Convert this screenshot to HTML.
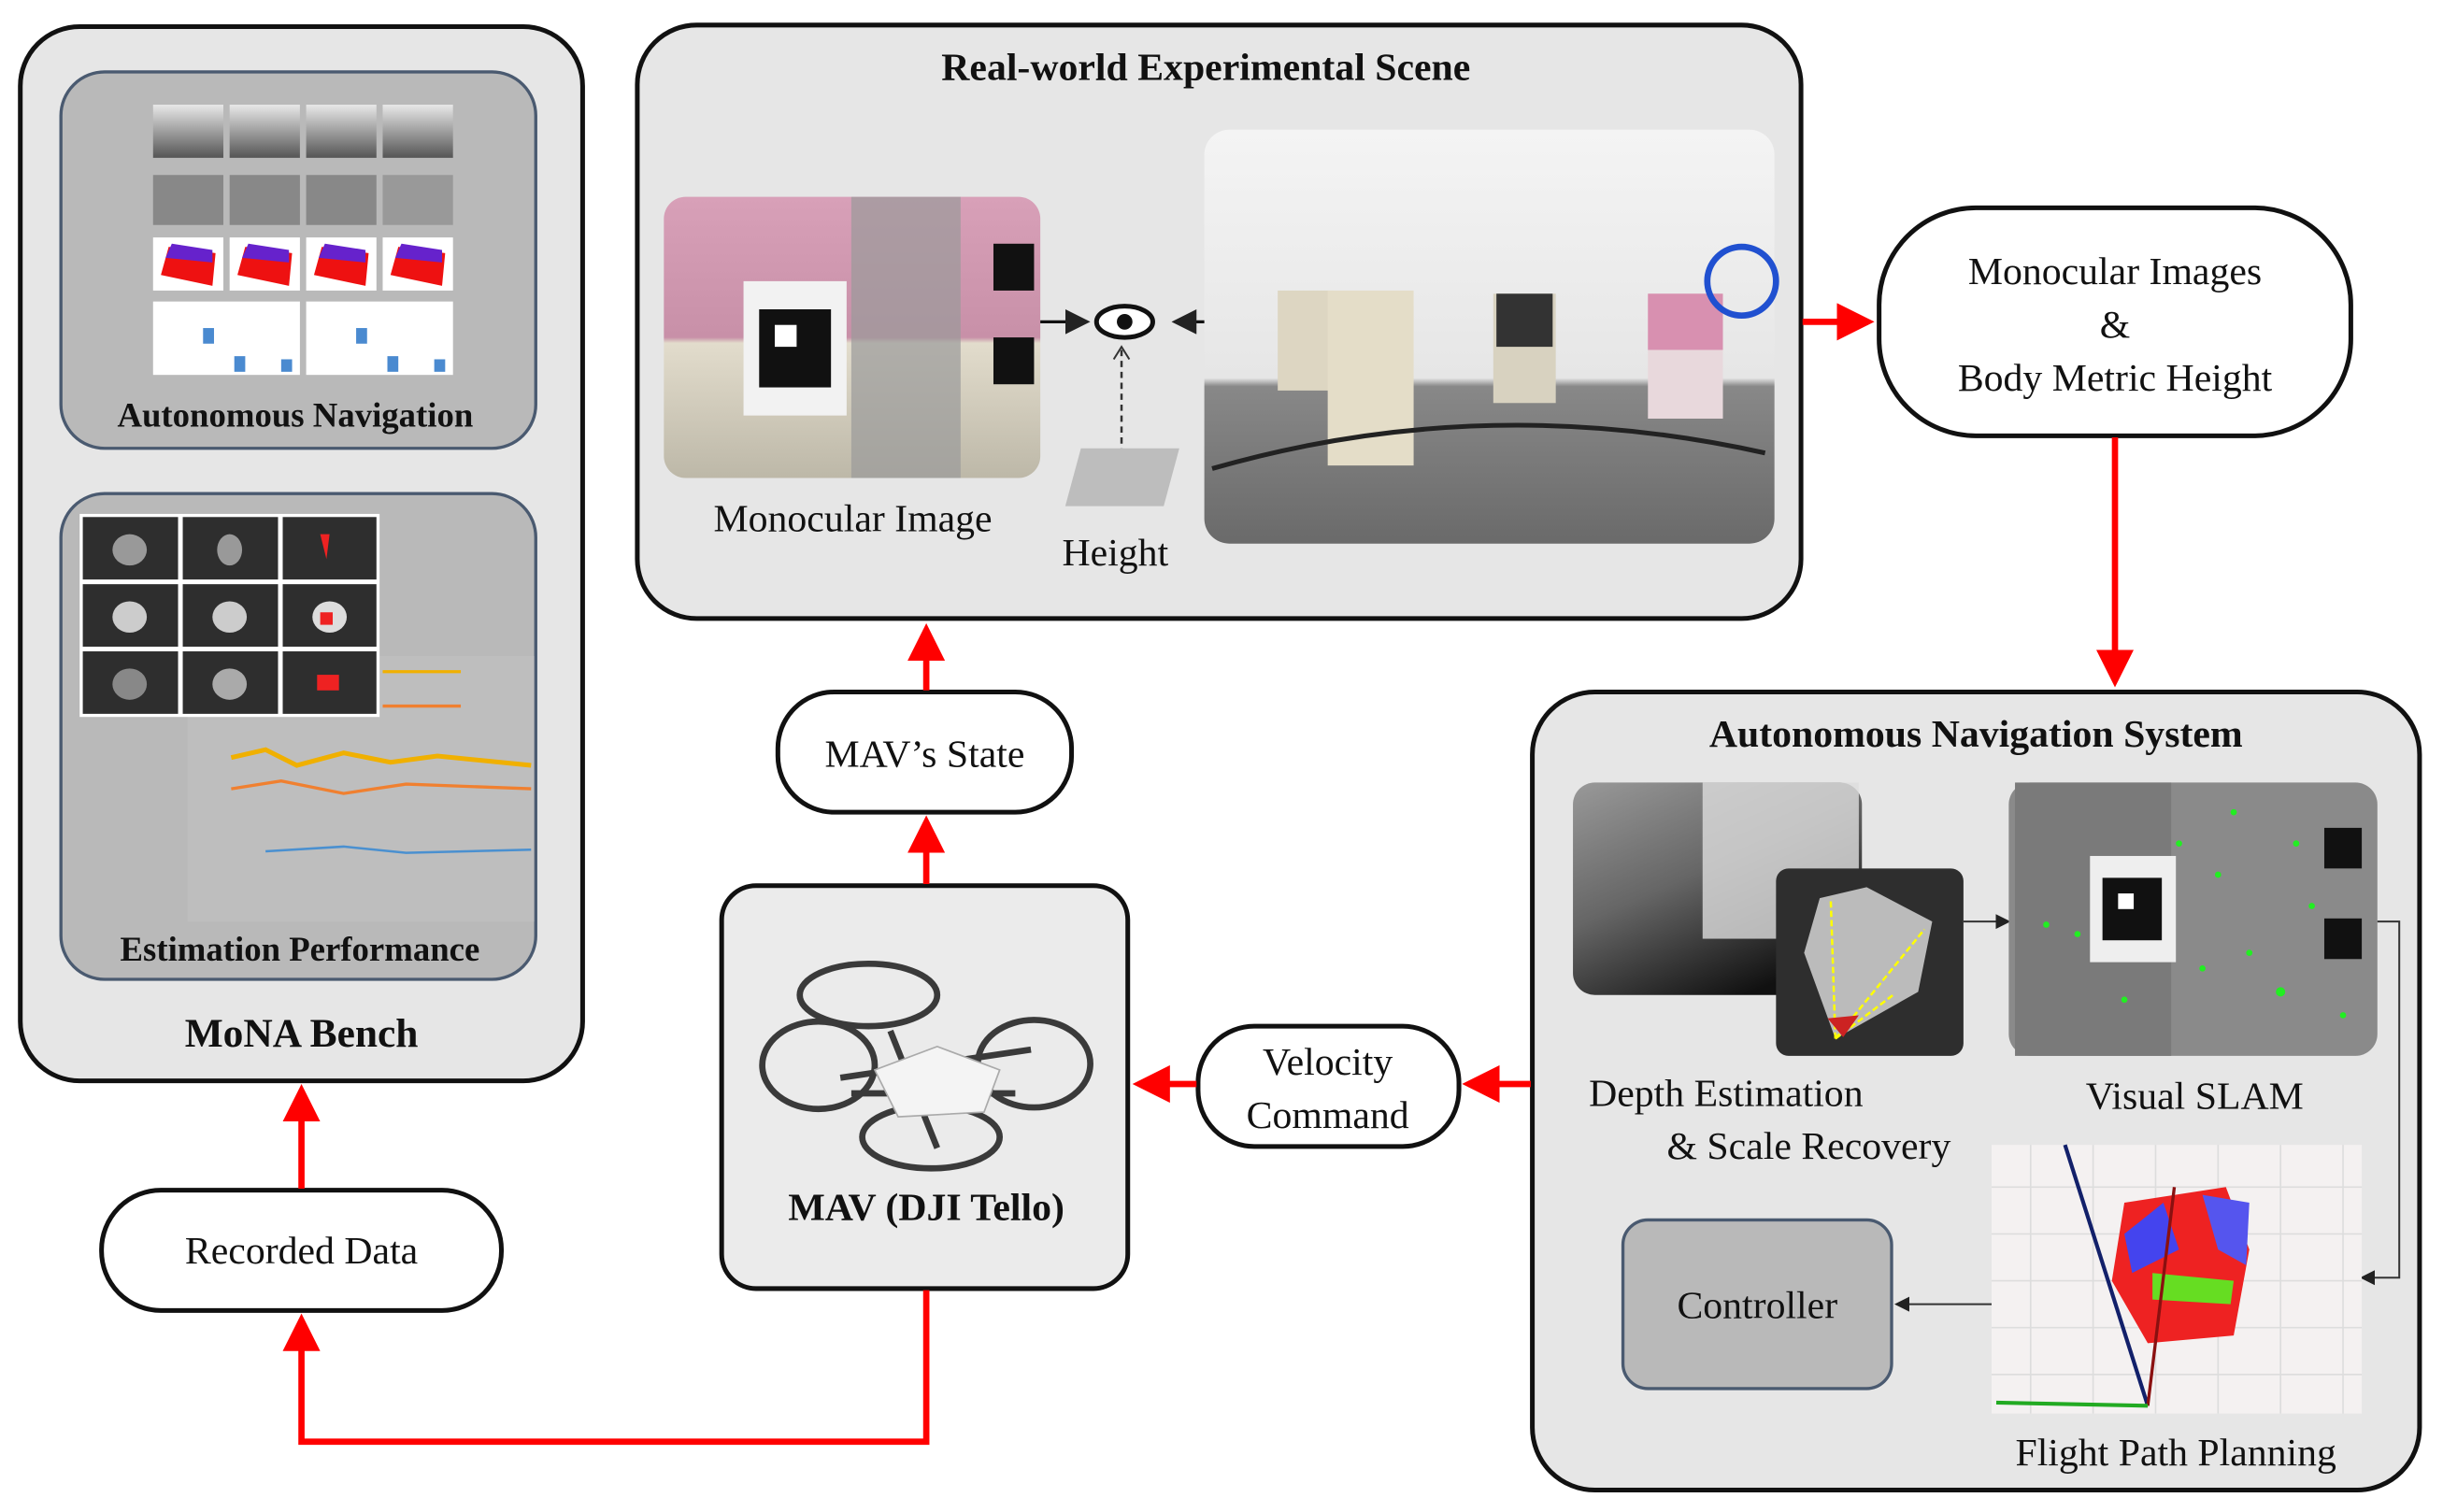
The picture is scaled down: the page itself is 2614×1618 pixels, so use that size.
<!DOCTYPE html>
<html><head><meta charset="utf-8"><style>
html,body{margin:0;padding:0;background:#fff;}
svg{display:block;}
text{font-family:"Liberation Serif",serif;fill:#111;}
.b{font-weight:bold;}
</style></head><body>
<svg width="2614" height="1618" viewBox="0 0 1564 968" xmlns="http://www.w3.org/2000/svg">
<defs>
<marker id="ra" markerWidth="6" markerHeight="6" refX="5" refY="3" orient="auto" markerUnits="strokeWidth"><path d="M0,0 L6,3 L0,6 z" fill="#f00"/></marker>
<marker id="ka" markerWidth="8" markerHeight="8" refX="7" refY="4" orient="auto" markerUnits="strokeWidth"><path d="M0,0 L8,4 L0,8 z" fill="#222"/></marker>
<linearGradient id="dep" x1="0" y1="0" x2="0.6" y2="1"><stop offset="0" stop-color="#999"/><stop offset="0.5" stop-color="#666"/><stop offset="1" stop-color="#111"/></linearGradient>
<linearGradient id="dep2" x1="0" y1="0" x2="0" y2="1"><stop offset="0" stop-color="#e8e8e8"/><stop offset="1" stop-color="#555"/></linearGradient>
<linearGradient id="room" x1="0" y1="0" x2="0" y2="1"><stop offset="0" stop-color="#f4f4f4"/><stop offset="0.6" stop-color="#e6e6e6"/><stop offset="0.62" stop-color="#888"/><stop offset="1" stop-color="#6a6a6a"/></linearGradient>
<linearGradient id="mono" x1="0" y1="0" x2="0" y2="1"><stop offset="0" stop-color="#d8a0b8"/><stop offset="0.5" stop-color="#c890a8"/><stop offset="0.52" stop-color="#e2dccc"/><stop offset="1" stop-color="#bdb8a8"/></linearGradient>
</defs>

<rect x="13" y="17" width="360" height="675" rx="38" fill="#e6e6e6" stroke="#111" stroke-width="3"/>
<rect x="39" y="46" width="304" height="241" rx="28" fill="#b9b9b9" stroke="#4a5a70" stroke-width="2"/>
<g>
<rect x="98" y="67" width="45" height="34" fill="url(#dep2)"/><rect x="147" y="67" width="45" height="34" fill="url(#dep2)"/><rect x="196" y="67" width="45" height="34" fill="url(#dep2)"/><rect x="245" y="67" width="45" height="34" fill="url(#dep2)"/>
<rect x="98" y="112" width="45" height="32" fill="#888"/><rect x="147" y="112" width="45" height="32" fill="#888"/><rect x="196" y="112" width="45" height="32" fill="#888"/><rect x="245" y="112" width="45" height="32" fill="#999"/>
<rect x="98" y="152" width="45" height="34" fill="#fff"/><rect x="147" y="152" width="45" height="34" fill="#fff"/><rect x="196" y="152" width="45" height="34" fill="#fff"/><rect x="245" y="152" width="45" height="34" fill="#fff"/>
<path d="M103,176 L108,158 L138,162 L136,183 Z" fill="#e11"/><path d="M106,165 L110,156 L136,160 L136,168 Z" fill="#62c"/>
<path d="M152,176 L157,158 L187,162 L185,183 Z" fill="#e11"/><path d="M155,165 L159,156 L185,160 L185,168 Z" fill="#62c"/>
<path d="M201,176 L206,158 L236,162 L234,183 Z" fill="#e11"/><path d="M204,165 L208,156 L234,160 L234,168 Z" fill="#62c"/>
<path d="M250,176 L255,158 L285,162 L283,183 Z" fill="#e11"/><path d="M253,165 L257,156 L283,160 L283,168 Z" fill="#62c"/>
<rect x="98" y="193" width="94" height="47" fill="#fff"/><rect x="196" y="193" width="94" height="47" fill="#fff"/>
<rect x="130" y="210" width="7" height="10" fill="#4a8ad0"/><rect x="150" y="228" width="7" height="10" fill="#4a8ad0"/><rect x="180" y="230" width="7" height="8" fill="#4a8ad0"/>
<rect x="228" y="210" width="7" height="10" fill="#4a8ad0"/><rect x="248" y="228" width="7" height="10" fill="#4a8ad0"/><rect x="278" y="230" width="7" height="8" fill="#4a8ad0"/>
</g>
<text x="189" y="273" font-size="22" class="b" text-anchor="middle">Autonomous Navigation</text>
<rect x="39" y="316" width="304" height="311" rx="28" fill="#b9b9b9" stroke="#4a5a70" stroke-width="2"/>
<g>
<rect x="120" y="420" width="222" height="170" fill="#bebebe"/>
<polyline points="148,485 170,480 190,490 220,482 250,488 280,484 340,490" fill="none" stroke="#f0b000" stroke-width="3"/>
<polyline points="148,505 180,500 220,508 260,502 340,505" fill="none" stroke="#f08030" stroke-width="2"/>
<polyline points="170,545 220,542 260,546 340,544" fill="none" stroke="#4a90d0" stroke-width="1.5"/>
<polyline points="245,430 295,430" stroke="#f0b000" stroke-width="2"/><polyline points="245,452 295,452" stroke="#f08030" stroke-width="2"/>
<rect x="51" y="329" width="192" height="130" fill="#fff"/>
<rect x="53" y="331" width="61" height="40" fill="#2e2e2e"/><rect x="117" y="331" width="61" height="40" fill="#2e2e2e"/><rect x="181" y="331" width="60" height="40" fill="#2e2e2e"/>
<rect x="53" y="374" width="61" height="40" fill="#2e2e2e"/><rect x="117" y="374" width="61" height="40" fill="#2e2e2e"/><rect x="181" y="374" width="60" height="40" fill="#2e2e2e"/>
<rect x="53" y="417" width="61" height="40" fill="#2e2e2e"/><rect x="117" y="417" width="61" height="40" fill="#2e2e2e"/><rect x="181" y="417" width="60" height="40" fill="#2e2e2e"/>
<ellipse cx="83" cy="352" rx="11" ry="10" fill="#999"/><ellipse cx="147" cy="352" rx="8" ry="10" fill="#999"/><path d="M205,342 l6,0 l-2,16 z" fill="#e22"/>
<ellipse cx="83" cy="395" rx="11" ry="10" fill="#ccc"/><ellipse cx="147" cy="395" rx="11" ry="10" fill="#ccc"/><ellipse cx="211" cy="395" rx="11" ry="10" fill="#ddd"/><rect x="205" y="392" width="8" height="8" fill="#e22"/>
<ellipse cx="83" cy="438" rx="11" ry="10" fill="#888"/><ellipse cx="147" cy="438" rx="11" ry="10" fill="#aaa"/><rect x="203" y="432" width="14" height="10" fill="#e22"/>
</g>
<text x="192" y="615" font-size="22" class="b" text-anchor="middle">Estimation Performance</text>
<text x="193" y="670" font-size="26" class="b" text-anchor="middle">MoNA Bench</text>

<rect x="408" y="16" width="745" height="380" rx="38" fill="#e6e6e6" stroke="#111" stroke-width="3"/>
<text x="772" y="51" font-size="25" class="b" text-anchor="middle">Real-world Experimental Scene</text>
<rect x="425" y="126" width="241" height="180" rx="14" fill="url(#mono)"/>
<rect x="545" y="126" width="70" height="180" fill="#9a9a9a" opacity="0.7"/>
<rect x="476" y="180" width="66" height="86" fill="#f2f2f2"/><rect x="486" y="198" width="46" height="50" fill="#111"/><rect x="496" y="208" width="14" height="14" fill="#fff"/>
<rect x="636" y="156" width="26" height="30" fill="#111"/><rect x="636" y="216" width="26" height="30" fill="#111"/>
<path d="M666,206 L696,206" stroke="#111" stroke-width="2" marker-end="url(#ka)"/>
<path d="M797,206 L752,206" stroke="#111" stroke-width="2" marker-end="url(#ka)"/>
<ellipse cx="720" cy="206" rx="18" ry="10" fill="#fff" stroke="#111" stroke-width="3"/><circle cx="720" cy="206" r="5" fill="#111"/>
<path d="M718,224 L718,300" stroke="#333" stroke-width="1.5" stroke-dasharray="4,3"/>
<path d="M713,230 L718,222 L723,230 M713,294 L718,302 L723,294" fill="none" stroke="#333" stroke-width="1.2"/>
<polygon points="692,287 755,287 745,324 682,324" fill="#bdbdbd"/>
<rect x="771" y="83" width="365" height="265" rx="16" fill="url(#room)"/>
<rect x="818" y="186" width="36" height="64" fill="#ddd6c2"/><rect x="850" y="186" width="55" height="112" fill="#e4ddc8"/>
<rect x="956" y="188" width="40" height="70" fill="#d8d2c0"/><rect x="958" y="188" width="36" height="34" fill="#333"/>
<rect x="1055" y="188" width="48" height="80" fill="#e8d8dc"/><rect x="1055" y="188" width="48" height="36" fill="#d890b0"/>
<circle cx="1115" cy="180" r="22" fill="none" stroke="#2050d0" stroke-width="4"/>
<path d="M776,300 Q950,250 1130,290" fill="none" stroke="#222" stroke-width="3"/>
<text x="546" y="340" font-size="25" text-anchor="middle">Monocular Image</text>
<text x="714" y="362" font-size="25" text-anchor="middle">Height</text>

<rect x="1203" y="133" width="302" height="146" rx="62" fill="#fff" stroke="#111" stroke-width="3"/>
<text x="1354" y="182" font-size="25" text-anchor="middle">Monocular Images</text>
<text x="1354" y="216" font-size="25" text-anchor="middle">&amp;</text>
<text x="1354" y="250" font-size="25" text-anchor="middle">Body Metric Height</text>

<rect x="981" y="443" width="568" height="511" rx="40" fill="#e6e6e6" stroke="#111" stroke-width="3"/>
<text x="1265" y="478" font-size="25" class="b" text-anchor="middle">Autonomous Navigation System</text>
<rect x="1007" y="501" width="185" height="136" rx="14" fill="url(#dep)"/>
<rect x="1090" y="501" width="100" height="100" fill="#ddd" opacity="0.8"/>
<rect x="1137" y="556" width="120" height="120" rx="8" fill="#2e2e2e"/>
<path d="M1165,575 L1195,568 L1237,590 L1228,635 L1175,665 L1155,610 Z" fill="#bbb"/>
<path d="M1175,665 L1172,575 M1175,665 L1232,595 M1175,665 L1212,637" stroke="#ff0" stroke-width="1.5" stroke-dasharray="4,2"/>
<path d="M1170,652 L1190,650 L1180,664 Z" fill="#c22"/>
<path d="M1257,590 L1286,590" stroke="#333" stroke-width="1.2" marker-end="url(#ka)"/>
<rect x="1286" y="501" width="236" height="175" rx="14" fill="#8a8a8a"/>
<rect x="1290" y="501" width="100" height="175" fill="#7a7a7a"/>
<rect x="1338" y="548" width="55" height="68" fill="#eee"/><rect x="1346" y="562" width="38" height="40" fill="#111"/><rect x="1356" y="572" width="10" height="10" fill="#fff"/>
<rect x="1488" y="530" width="24" height="26" fill="#111"/><rect x="1488" y="588" width="24" height="26" fill="#111"/>
<g fill="#2e2">
<circle cx="1310" cy="592" r="2"/><circle cx="1330" cy="598" r="2"/><circle cx="1395" cy="540" r="2"/><circle cx="1420" cy="560" r="2"/><circle cx="1440" cy="610" r="2"/><circle cx="1460" cy="635" r="3"/><circle cx="1480" cy="580" r="2"/><circle cx="1410" cy="620" r="2"/><circle cx="1360" cy="640" r="2"/><circle cx="1500" cy="650" r="2"/><circle cx="1430" cy="520" r="2"/><circle cx="1470" cy="540" r="2"/>
</g>
<path d="M1522,590 L1536,590 L1536,818 L1512,818" fill="none" stroke="#333" stroke-width="1.2" marker-end="url(#ka)"/>
<text x="1105" y="708" font-size="25" text-anchor="middle">Depth Estimation</text>
<text x="1158" y="742" font-size="25" text-anchor="middle">&amp; Scale Recovery</text>
<text x="1405" y="710" font-size="25" text-anchor="middle">Visual SLAM</text>
<rect x="1275" y="733" width="237" height="172" fill="#f4f1f1"/>
<g stroke="#ddd" stroke-width="1"><path d="M1275,760 H1512 M1275,790 H1512 M1275,820 H1512 M1275,850 H1512 M1275,880 H1512 M1300,733 V905 M1340,733 V905 M1380,733 V905 M1420,733 V905 M1460,733 V905 M1500,733 V905"/></g>
<path d="M1360,770 L1425,760 L1440,800 L1430,855 L1375,860 L1352,820 Z" fill="#e22"/>
<path d="M1360,790 L1385,770 L1395,800 L1365,815 Z" fill="#44e"/><path d="M1410,765 L1440,770 L1438,810 L1420,800 Z" fill="#55e"/>
<path d="M1378,815 L1430,820 L1428,835 L1378,832 Z" fill="#6d2"/>
<path d="M1322,733 L1375,900" stroke="#12206a" stroke-width="2.5"/>
<path d="M1375,900 L1392,760" stroke="#8a1010" stroke-width="2"/>
<path d="M1278,898 L1375,900" stroke="#2a2" stroke-width="2.5"/>
<path d="M1275,835 L1214,835" stroke="#333" stroke-width="1.2" marker-end="url(#ka)"/>
<rect x="1039" y="781" width="172" height="108" rx="16" fill="#b9b9b9" stroke="#4a5a70" stroke-width="2"/>
<text x="1125" y="844" font-size="25" text-anchor="middle">Controller</text>
<text x="1393" y="938" font-size="25" text-anchor="middle">Flight Path Planning</text>

<rect x="767" y="657" width="167" height="77" rx="36" fill="#fff" stroke="#111" stroke-width="3"/>
<text x="850" y="688" font-size="25" text-anchor="middle">Velocity</text>
<text x="850" y="722" font-size="25" text-anchor="middle">Command</text>

<rect x="462" y="567" width="260" height="258" rx="22" fill="#ebebeb" stroke="#111" stroke-width="3"/>
<g fill="none" stroke="#3a3a3a" stroke-width="4">
<ellipse cx="556" cy="637" rx="44" ry="20"/><ellipse cx="524" cy="682" rx="36" ry="28"/><ellipse cx="662" cy="681" rx="36" ry="28"/><ellipse cx="596" cy="728" rx="44" ry="20"/>
<path d="M538,690 L660,672 M545,700 L650,700 M570,660 L600,735"/>
</g>
<path d="M560,685 L600,670 L640,685 L630,712 L575,715 Z" fill="#f4f4f4" stroke="#aaa"/>
<text x="593" y="781" font-size="25" class="b" text-anchor="middle">MAV (DJI Tello)</text>

<rect x="498" y="443" width="188" height="77" rx="36" fill="#fff" stroke="#111" stroke-width="3"/>
<text x="592" y="491" font-size="25" text-anchor="middle">MAV’s State</text>

<rect x="65" y="762" width="256" height="77" rx="38" fill="#fff" stroke="#111" stroke-width="3"/>
<text x="193" y="809" font-size="25" text-anchor="middle">Recorded Data</text>

<g stroke="#f00" stroke-width="4" fill="none">
<path d="M1154,206 L1196,206" marker-end="url(#ra)"/>
<path d="M1354,280 L1354,436" marker-end="url(#ra)"/>
<path d="M980,694 L940,694" marker-end="url(#ra)"/>
<path d="M766,694 L729,694" marker-end="url(#ra)"/>
<path d="M593,566 L593,526" marker-end="url(#ra)"/>
<path d="M593,442 L593,403" marker-end="url(#ra)"/>
<path d="M193,761 L193,698" marker-end="url(#ra)"/>
<path d="M593,826 L593,923 L193,923 L193,845" marker-end="url(#ra)"/>
</g>
</svg>
</body></html>
